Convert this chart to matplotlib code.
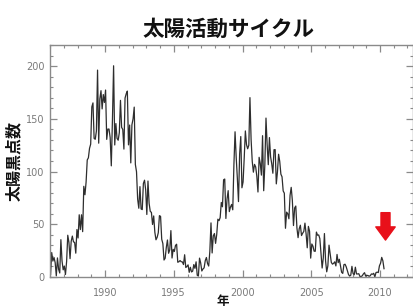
import numpy as np
import matplotlib
matplotlib.use("Agg")
import matplotlib.pyplot as plt
from matplotlib.ticker import MultipleLocator

plt.rcParams['font.family'] = ['Noto Sans CJK JP', 'DejaVu Sans']

# monthly sunspot numbers, Jan..Dec
start_year = 1986
ssn_1986 = [2.5, 23.2, 15.1, 18.5, 13.7, 1.1, 18.1, 7.4, 3.8, 35.4, 15.2, 6.8]
ssn_1987 = [10.4, 2.4, 14.7, 39.6, 33.0, 17.4, 33.9, 38.8, 33.3, 32.8, 22.6, 45.0]
ssn_1988 = [37.0, 59.0, 45.0, 59.0, 43.0, 86.0, 78.0, 90.0, 111.0, 113.0, 122.0, 126.0]
ssn_1989 = [161.3, 165.1, 131.4, 130.6, 138.5, 196.2, 126.9, 168.9, 176.7, 159.4, 173.0, 165.5]
ssn_1990 = [177.3, 130.5, 140.3, 140.3, 132.2, 105.4, 149.4, 200.3, 125.2, 145.5, 131.4, 129.7]
ssn_1991 = [136.9, 167.5, 141.9, 140.0, 121.3, 169.7, 173.7, 176.3, 125.3, 144.1, 108.2, 144.4]
ssn_1992 = [150.0, 161.1, 106.7, 99.8, 73.8, 65.2, 85.7, 64.5, 63.9, 88.7, 91.8, 82.6]
ssn_1993 = [59.3, 91.0, 69.8, 62.2, 61.3, 49.8, 57.9, 42.4, 35.3, 37.6, 41.9, 58.2]
ssn_1994 = [57.5, 35.8, 31.7, 16.1, 17.8, 28.0, 35.1, 22.5, 25.7, 44.0, 18.0, 26.2]
ssn_1995 = [24.2, 29.9, 31.1, 14.0, 14.5, 15.6, 14.5, 14.3, 11.8, 21.1, 9.0, 10.0]
ssn_1996 = [11.5, 4.4, 9.2, 4.8, 5.5, 11.8, 8.2, 14.4, 1.6, 0.9, 17.9, 13.3]
ssn_1997 = [5.7, 7.6, 8.7, 15.5, 18.5, 12.7, 10.4, 24.4, 51.3, 22.8, 39.0, 41.2]
ssn_1998 = [31.9, 40.3, 54.8, 53.4, 56.3, 70.7, 66.6, 92.2, 92.9, 55.5, 74.0, 81.9]
ssn_1999 = [62.0, 66.3, 68.8, 63.7, 106.4, 137.7, 113.5, 93.7, 71.5, 116.7, 133.2, 84.6]
ssn_2000 = [90.1, 112.9, 138.5, 125.5, 121.6, 124.9, 170.1, 130.5, 109.7, 99.4, 106.8, 104.4]
ssn_2001 = [95.6, 80.6, 113.5, 107.7, 96.6, 134.0, 81.8, 106.4, 150.7, 125.5, 106.5, 132.2]
ssn_2002 = [114.1, 107.4, 98.4, 120.7, 120.8, 88.3, 99.6, 116.4, 109.6, 97.5, 95.0, 81.6]
ssn_2003 = [79.5, 46.2, 61.5, 60.0, 55.2, 77.4, 85.0, 72.7, 48.8, 65.5, 67.3, 46.5]
ssn_2004 = [37.3, 45.8, 49.1, 39.3, 41.5, 43.2, 51.1, 40.9, 27.7, 48.0, 43.5, 17.9]
ssn_2005 = [31.3, 29.2, 24.5, 24.4, 42.6, 39.6, 39.9, 36.4, 22.1, 8.5, 18.0, 41.2]
ssn_2006 = [15.3, 4.9, 10.6, 30.2, 22.3, 13.9, 12.2, 12.9, 14.4, 10.5, 21.4, 13.6]
ssn_2007 = [16.8, 10.7, 4.5, 3.4, 11.7, 12.1, 9.7, 6.0, 2.4, 0.9, 1.7, 10.1]
ssn_2008 = [3.3, 2.1, 9.3, 2.9, 2.9, 3.1, 0.5, 0.5, 1.1, 2.9, 4.1, 0.8]
ssn_2009 = [1.5, 1.4, 0.7, 1.2, 2.9, 2.6, 3.5, 0.0, 4.2, 4.6, 4.2, 10.6]
ssn_2010 = [13.1, 18.6, 15.4, 7.9]

values = (ssn_1986 + ssn_1987 + ssn_1988 + ssn_1989 + ssn_1990 + ssn_1991 +
          ssn_1992 + ssn_1993 + ssn_1994 + ssn_1995 + ssn_1996 + ssn_1997 +
          ssn_1998 + ssn_1999 + ssn_2000 + ssn_2001 + ssn_2002 + ssn_2003 +
          ssn_2004 + ssn_2005 + ssn_2006 + ssn_2007 + ssn_2008 + ssn_2009 +
          ssn_2010)
t = start_year + (np.arange(len(values)) + 0.5) / 12.0

arrow_year = 2010.4
arrow_top, arrow_tip = 61, 35

fig = plt.figure(figsize=(4.14, 3.07), dpi=100)
ax = fig.add_axes([50/414, 1 - 277/307, 363/414, 232/307])

ax.plot(t, values, color='#2e2e2e', lw=0.9)

ax.set_xlim(1986, 2012.4)
ax.set_ylim(0, 220)
ax.xaxis.set_major_locator(MultipleLocator(5))
ax.xaxis.set_minor_locator(MultipleLocator(1))
ax.yaxis.set_major_locator(MultipleLocator(50))
ax.yaxis.set_minor_locator(MultipleLocator(10))

gray = '#8a8a8a'
for s in ax.spines.values():
    s.set_color(gray)
    s.set_linewidth(1.0)
ax.tick_params(which='both', direction='in', top=True, right=True, color=gray,
               labelcolor='#7a7a7a', labelsize=7)
ax.tick_params(which='major', length=5, width=0.9)
ax.tick_params(which='minor', length=2.5, width=0.8)
ax.tick_params(axis='x', pad=8)
ax.tick_params(axis='y', pad=4)
for lab in ax.get_xticklabels() + ax.get_yticklabels():
    lab.set_family('DejaVu Sans')

ax.annotate('', xy=(arrow_year, arrow_tip), xytext=(arrow_year, arrow_top),
            arrowprops=dict(arrowstyle='simple,head_length=0.95,head_width=1.4,tail_width=0.65',
                            color='#e8101a', mutation_scale=10, shrinkA=0, shrinkB=0))

fig.text(229/414, 1 - 29/307, '太陽活動サイクル', ha='center', va='center',
         fontsize=15.5, fontweight='bold', color='#111111')
fig.text(14/414, 1 - 161/307, '太陽黒点数', ha='center', va='center', rotation=90,
         fontsize=11.5, fontweight='bold', color='#111111')
fig.text(223/414, 1 - 301/307, '年', ha='center', va='center',
         fontsize=9, fontweight='bold', color='#111111')

fig.savefig('out.png', dpi=100)
